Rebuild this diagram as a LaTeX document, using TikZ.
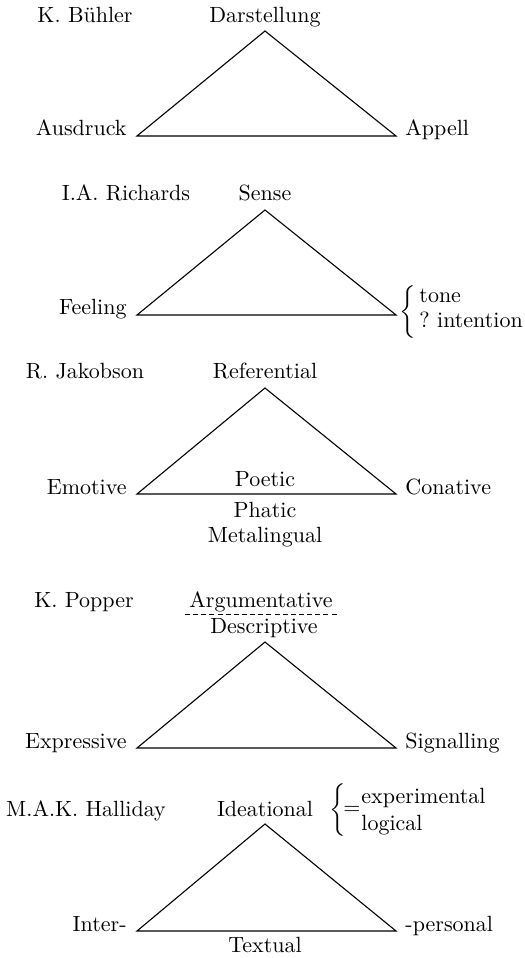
\documentclass[tikz,border=0pt]{standalone}
\usepackage{fontspec}
\begin{document}
\begin{tikzpicture}[x=0.4545pt,y=-0.4545pt,
  every node/.style={font=\fontsize{10}{12}\selectfont, inner sep=0pt},
  tri/.style={line width=0.5pt, line join=miter},
  lab/.style={anchor=base},
  labl/.style={anchor=base east},
  labr/.style={anchor=base west}]
\useasboundingbox (0,0) rectangle (524,958);
% --- Buehler
\coordinate (a1) at (265,31); \coordinate (l1) at (137,136); \coordinate (r1) at (396,136);
\draw[tri] (a1) -- (r1) -- (l1) -- cycle;
\node[lab] (auth1) at (85,23) {K. Bühler};
\node[lab] (top1) at (265,23) {Darstellung};
\node[labl] (left1) at (127,136) {Ausdruck};
\node[labr] (right1) at (405,136) {Appell};
% --- Richards
\coordinate (a2) at (265,210); \coordinate (l2) at (137,315); \coordinate (r2) at (396,315);
\draw[tri] (a2) -- (r2) -- (l2) -- cycle;
\node[lab] (auth2) at (126,201) {I.A. Richards};
\node[lab] (top2) at (265,201) {Sense};
\node[labl] (left2) at (127,315) {Feeling};
\node[anchor=east] (br2) at (416,312.5) {\nulldelimiterspace=0pt$\left\{\vcenter{\hbox{\vrule height 10.4pt depth 10.4pt width 0pt}}\right.$};
\node[labr] (tone) at (419,303) {tone};
\node[labr] (intent) at (419,327) {?\ intention};
% --- Jakobson
\coordinate (a3) at (265,388); \coordinate (l3) at (137,494); \coordinate (r3) at (396,494);
\draw[tri] (a3) -- (r3) -- (l3) -- cycle;
\node[lab] (auth3) at (85,378) {R. Jakobson};
\node[lab] (top3) at (265,378) {Referential};
\node[labl] (left3) at (127,494) {Emotive};
\node[labr] (right3) at (405,494) {Conative};
\node[lab] (poetic) at (265,486) {Poetic};
\node[lab] (phatic) at (265,517) {Phatic};
\node[lab] (meta) at (265,542) {Metalingual};
% --- Popper
\coordinate (a4) at (265,642); \coordinate (l4) at (137,748); \coordinate (r4) at (396,748);
\draw[tri] (a4) -- (r4) -- (l4) -- cycle;
\node[lab] (auth4) at (84,607) {K. Popper};
\node[lab] (arg) at (261,607) {Argumentative};
\coordinate (d1) at (185,614); \coordinate (d2) at (337,614);
\draw[line width=0.45pt, dash pattern=on 2.3pt off 1.4pt] (d1) -- (d2);
\node[lab] (descr) at (264,633) {Descriptive};
\node[labl] (left4) at (127,748) {Expressive};
\node[labr] (right4) at (405,748) {Signalling};
% --- Halliday
\coordinate (a5) at (265,824); \coordinate (l5) at (137,931); \coordinate (r5) at (396,931);
\draw[tri] (a5) -- (r5) -- (l5) -- cycle;
\node[lab] (auth5) at (86,816) {M.A.K. Halliday};
\node[lab] (top5) at (265,816) {Ideational};
\node[anchor=east] (br5) at (346,810) {\nulldelimiterspace=0pt$\left\{\vcenter{\hbox{\vrule height 12pt depth 12pt width 0pt}}\right.$};
\node (eq) at (352,810) {$=$};
\node[labr] (exp) at (361,803) {experimental};
\node[labr] (logi) at (361,830) {logical};
\node[labl] (left5) at (127,931) {Inter-};
\node[labr] (right5) at (405,931) {-personal};
\node[lab] (textual) at (265,952) {Textual};
\end{tikzpicture}
\end{document}
